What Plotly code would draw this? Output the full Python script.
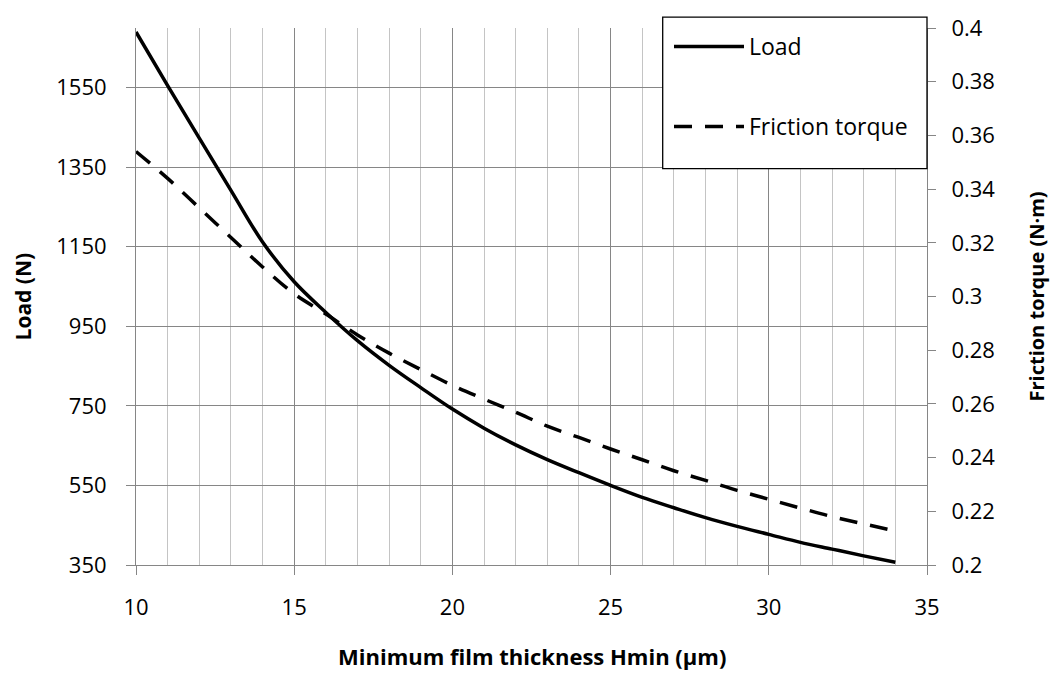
import plotly.graph_objects as go

# ---- data ----
hmin = [10, 11, 12, 13, 14, 15, 16, 17, 18, 19, 20, 21, 22,
        23, 24, 25, 26, 27, 28, 29, 30, 31, 32, 33, 34]
load = [1690, 1555, 1423, 1292, 1162, 1062, 985, 914, 852, 796, 742, 694, 652,
        615, 582, 550, 520, 494, 469, 447, 427, 407, 390, 373, 357]
friction_torque = [0.354, 0.344, 0.333, 0.322, 0.311, 0.301, 0.2935, 0.2857, 0.2789,
                   0.2728, 0.2669, 0.2618, 0.2569, 0.2517, 0.2475, 0.2432, 0.2392,
                   0.2351, 0.2315, 0.2278, 0.2245, 0.2212, 0.2180, 0.2153, 0.2127]

x_ticks = [10, 15, 20, 25, 30, 35]
load_ticks = [350, 550, 750, 950, 1150, 1350, 1550]
torque_ticks = [0.2, 0.22, 0.24, 0.26, 0.28, 0.3, 0.32, 0.34, 0.36, 0.38, 0.4]
torque_tick_text = ["0.2", "0.22", "0.24", "0.26", "0.28", "0.3", "0.32", "0.34", "0.36", "0.38", "0.4"]

FONT = "Open Sans"
AX = "#868686"
MINOR = "#c4c4c4"

fig = go.Figure()
fig.add_trace(go.Scatter(
    x=hmin, y=load, name="Load", mode="lines", line_shape="spline",
    line=dict(color="black", width=3.5), legendgroup="a", yaxis="y"))
fig.add_trace(go.Scatter(
    x=hmin, y=friction_torque, name="Friction torque", mode="lines", line_shape="spline",
    line=dict(color="black", width=3.5, dash="18px,13px"), legendgroup="b", yaxis="y2"))

fig.update_layout(
    width=1052, height=675,
    margin=dict(l=136, r=125, t=20, b=110),
    paper_bgcolor="white", plot_bgcolor="white",
    font=dict(family=FONT, size=22, color="black"),
    showlegend=True,
    legend=dict(
        x=(669 - 136) / 791, xanchor="left", y=(565 - 17) / 545, yanchor="top",
        bgcolor="rgba(0,0,0,0)", borderwidth=0,
        font=dict(family=FONT, size=23, color="black"),
        traceorder="grouped", tracegroupgap=47, itemwidth=70,
    ),
    shapes=[
        dict(type="rect", xref="paper", yref="paper", layer="above",
             x0=(662.7 - 136) / 791, x1=1.0, y0=(565 - 162.7) / 545, y1=(565 - 9) / 545,
             fillcolor="white", line=dict(color="black", width=1.3)),
    ],
    xaxis=dict(
        range=[10, 35], tickvals=x_ticks, ticks="outside", ticklen=9,
        tickcolor=AX, tickwidth=1, showline=True, linecolor=AX, linewidth=1,
        showgrid=True, gridcolor=AX, gridwidth=1, zeroline=False,
        ticklabelstandoff=14,
        minor=dict(dtick=1, showgrid=True, gridcolor=MINOR, gridwidth=1, ticks=""),
    ),
    yaxis=dict(
        range=[350, 1700], tickvals=load_ticks, ticks="outside", ticklen=9,
        tickcolor=AX, tickwidth=1, showline=True, linecolor=AX, linewidth=1,
        showgrid=True, gridcolor=AX, gridwidth=1, zeroline=False,
        ticklabelstandoff=15,
    ),
    yaxis2=dict(
        range=[0.2, 0.4], tickvals=torque_ticks, ticktext=torque_tick_text,
        overlaying="y", side="right", ticks="outside", ticklen=8,
        tickcolor=AX, tickwidth=1, showline=True, linecolor=AX, linewidth=1,
        showgrid=False, zeroline=False, ticklabelstandoff=11,
    ),
    annotations=[
        dict(text="Minimum film thickness Hmin (μm)", xref="paper", yref="paper",
             x=0.5, y=-0.169, xanchor="center", yanchor="middle", showarrow=False,
             font=dict(family=FONT, size=22, color="black", weight="bold")),
        dict(text="Load (N)", xref="paper", yref="paper",
             x=-0.1429, y=0.5, xanchor="center", yanchor="middle", showarrow=False,
             textangle=-90, font=dict(family=FONT, size=21, color="black", weight="bold")),
        dict(text="Friction torque (N·m)", xref="paper", yref="paper",
             x=(1036 - 136) / 791, y=0.5, xanchor="center", yanchor="middle", showarrow=False,
             textangle=-90, font=dict(family=FONT, size=20, color="black", weight="bold")),
    ],
)

fig.write_html("out.html")
